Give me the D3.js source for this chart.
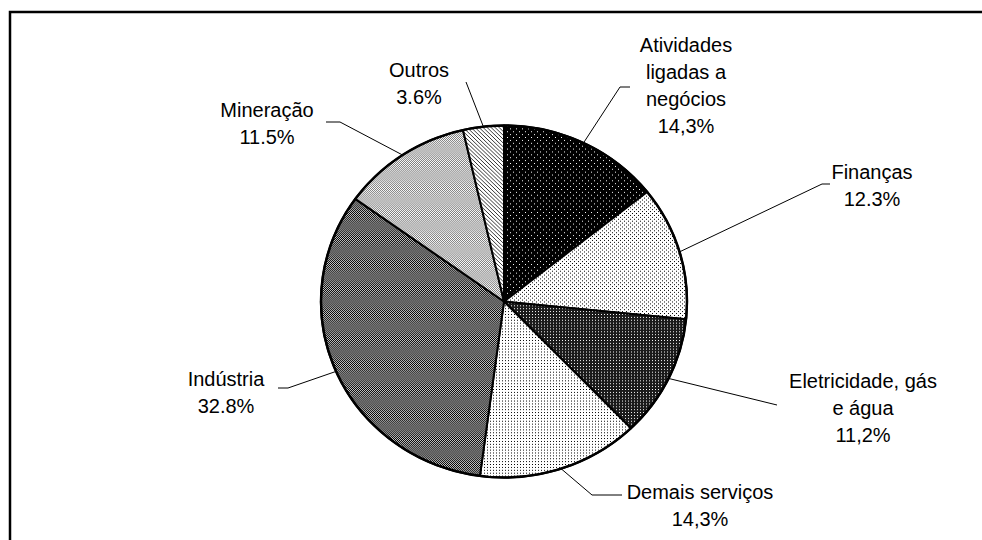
<!DOCTYPE html>
<html>
<head>
<meta charset="utf-8">
<script src="https://cdn.jsdelivr.net/npm/d3@7"></script>
<style>
  body { margin: 0; background: #fff; }
  text { font-family: "Liberation Sans", Arial, sans-serif; font-size: 20px; fill: #000; }
</style>
</head>
<body>
<div id="pie_chart"></div>
<script>
// data
var categories = [
    ["Atividades", "ligadas a", "negócios"],
    ["Finanças"],
    ["Eletricidade, gás", "e água"],
    ["Demais serviços"],
    ["Indústria"],
    ["Mineração"],
    ["Outros"]
];
var values = [14.3, 12.3, 11.2, 14.3, 32.8, 11.5, 3.6];
var valueLabels = ["14,3%", "12.3%", "11,2%", "14,3%", "32.8%", "11.5%", "3.6%"];

// label layout: text centre x, first baseline y, leader elbow and end
var labelPos = [
    {x: 686, y: 52,  elbow: [620, 87],  end: [630, 87]},
    {x: 872, y: 179, elbow: [822, 184], end: [830, 184]},
    {x: 863, y: 388, elbow: [777, 405], end: [777, 405]},
    {x: 700, y: 499, elbow: [592, 495], end: [622, 495]},
    {x: 226, y: 386, elbow: [288, 388], end: [278, 388]},
    {x: 267, y: 117, elbow: [340, 122], end: [326, 122]},
    {x: 419, y: 77,  elbow: [466, 82],  end: [466, 82]}
];

var width = 982, height = 540;
var cx = 504, cy = 301.5, rx = 183, ry = 176;

var svg = d3.select("#pie_chart")
  .append("svg")
    .attr("width", width)
    .attr("height", height);

///////////////////////////////PATTERNS////////////////////////////////////////
var defs = svg.append("defs");

function dots(id, bg, fg, size, pts) {
    var p = defs.append("pattern")
        .attr("id", id)
        .attr("patternUnits", "userSpaceOnUse")
        .attr("width", size).attr("height", size);
    p.append("rect").attr("width", size).attr("height", size).attr("fill", bg);
    pts.forEach(function(d){
        p.append("rect").attr("x", d[0]).attr("y", d[1])
            .attr("width", 1).attr("height", 1).attr("fill", fg);
    });
}
function checker(id, a, b) {
    var p = defs.append("pattern")
        .attr("id", id)
        .attr("patternUnits", "userSpaceOnUse")
        .attr("width", 2).attr("height", 2);
    p.append("rect").attr("width", 2).attr("height", 2).attr("fill", a);
    p.append("rect").attr("width", 1).attr("height", 1).attr("fill", b);
    p.append("rect").attr("x", 1).attr("y", 1).attr("width", 1).attr("height", 1).attr("fill", b);
}

dots("p0", "#000", "#fff", 6, [[0, 0], [3, 3]]);
dots("p1", "#fff", "#000", 4, [[0, 0], [2, 2]]);
dots("p2", "#1a1a1a", "#fff", 3, [[1, 1]]);
dots("p3", "#fff", "#000", 3, [[1, 1]]);
checker("p4", "#000", "#c8c8c8");
checker("p5", "#fff", "#7a7a7a");

var hatch = defs.append("pattern")
    .attr("id", "p6")
    .attr("patternUnits", "userSpaceOnUse")
    .attr("width", 4).attr("height", 4);
hatch.append("rect").attr("width", 4).attr("height", 4).attr("fill", "#fff");
hatch.append("path")
    .attr("d", "M0,0L4,4M-1,3L1,5M3,-1L5,1")
    .attr("stroke", "#000").attr("stroke-width", 0.8);

///////////////////////////////FRAME////////////////////////////////////////
svg.append("rect")
    .attr("x", 10).attr("y", 12)
    .attr("width", 1200).attr("height", 800)
    .attr("fill", "none")
    .attr("stroke", "#000")
    .attr("stroke-width", 2.5);

///////////////////////////////DRAW PIE////////////////////////////////////////
var pie = d3.pie().sort(null).value(function(d){ return d; });
var arcs = pie(values);

var arc = d3.arc().innerRadius(0).outerRadius(rx);

var g = svg.append("g")
    .attr("transform", "translate(" + cx + "," + cy + ") scale(1," + (ry / rx) + ")");

g.selectAll(".slice")
    .data(arcs)
    .enter().append("path")
    .attr("class", "slice")
    .attr("d", arc)
    .attr("fill", function(d, i){ return "url(#p" + i + ")"; })
    .attr("stroke", "#000")
    .attr("stroke-width", 2)
    .attr("stroke-linejoin", "round")
    .attr("vector-effect", "non-scaling-stroke");

g.append("ellipse")
    .attr("rx", rx).attr("ry", rx)
    .attr("fill", "none")
    .attr("stroke", "#000")
    .attr("stroke-width", 2.5)
    .attr("vector-effect", "non-scaling-stroke");

///////////////////////////////LEADERS + LABELS////////////////////////////////
function edgePoint(d) {
    var a = (d.startAngle + d.endAngle) / 2;
    return [cx + rx * Math.sin(a), cy - ry * Math.cos(a)];
}

svg.selectAll(".leader")
    .data(arcs)
    .enter().append("polyline")
    .attr("class", "leader")
    .attr("points", function(d, i){
        var p = edgePoint(d), l = labelPos[i];
        return [p, l.elbow, l.end].map(function(q){ return q.join(","); }).join(" ");
    })
    .attr("fill", "none")
    .attr("stroke", "#000")
    .attr("stroke-width", 1);

var lineH = 27;
arcs.forEach(function(d, i){
    var lines = categories[i].concat([valueLabels[i]]);
    var t = svg.append("text")
        .attr("text-anchor", "middle")
        .attr("x", labelPos[i].x)
        .attr("y", labelPos[i].y);
    lines.forEach(function(s, k){
        t.append("tspan")
            .attr("x", labelPos[i].x)
            .attr("dy", k === 0 ? 0 : lineH)
            .text(s);
    });
});
</script>
</body>
</html>
